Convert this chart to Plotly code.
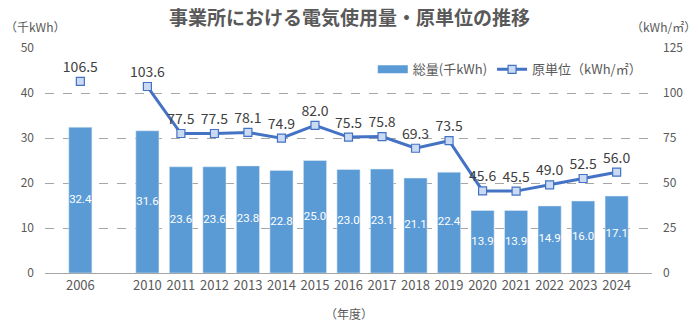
import plotly.graph_objects as go

years = ["2006", " ", "2010", "2011", "2012", "2013", "2014", "2015", "2016",
         "2017", "2018", "2019", "2020", "2021", "2022", "2023", "2024"]
total = [32.4, None, 31.6, 23.6, 23.6, 23.8, 22.8, 25.0, 23.0,
         23.1, 21.1, 22.4, 13.9, 13.9, 14.9, 16.0, 17.1]
unit = [106.5, None, 103.6, 77.5, 77.5, 78.1, 74.9, 82.0, 75.5,
        75.8, 69.3, 73.5, 45.6, 45.5, 49.0, 52.5, 56.0]

FONT = "Noto Sans CJK JP"
GRAY = "#595959"
BAR = "#5b9bd5"

fig = go.Figure()
fig.add_trace(go.Bar(
    x=years, y=total, name="総量(千kWh)", showlegend=False,
    marker=dict(color=BAR),
))
# legend proxy: wide rectangle like the reference legend swatch
fig.add_trace(go.Scatter(
    x=[None], y=[None], name="総量(千kWh)", mode="lines",
    line=dict(color=BAR, width=8),
))
# labels centred inside the bars
fig.add_trace(go.Scatter(
    x=years, y=[v / 2 if v is not None else None for v in total],
    mode="text", showlegend=False, hoverinfo="skip",
    text=[f"{v:.1f}" if v is not None else "" for v in total],
    textposition="middle center",
    textfont=dict(color="white", size=11.5, family="Roboto"),
))
fig.add_trace(go.Scatter(
    x=years, y=unit, name="原単位（kWh/㎡）", yaxis="y2",
    mode="lines+markers+text",
    line=dict(color="#4472c4", width=3),
    marker=dict(symbol="square", size=8, color="#c9daf2",
                line=dict(color="#4472c4", width=1.2)),
    text=[f"{v:.1f}" if v is not None else "" for v in unit],
    textposition="top center",
    textfont=dict(color="#404040", size=14, family=FONT),
    connectgaps=False, cliponaxis=False,
))

fig.update_layout(
    width=699, height=333,
    margin=dict(l=45, r=47, t=48, b=60),
    plot_bgcolor="white", paper_bgcolor="white",
    font=dict(family=FONT, color=GRAY, size=13),
    bargap=0.31,
    showlegend=True,
    legend=dict(orientation="h", x=0.54, y=0.905, xanchor="left", yanchor="middle",
                font=dict(size=13, color=GRAY), bgcolor="rgba(0,0,0,0)",
                itemwidth=30, tracegroupgap=0),
    title=dict(text="<b>事業所における電気使用量・原単位の推移</b>",
               x=0.5, xanchor="center", y=0.945, yanchor="middle",
               font=dict(size=19, color=GRAY, family=FONT)),
    xaxis=dict(type="category", showgrid=False, showline=True,
               linecolor="#a6a6a6", linewidth=1, ticks="",
               tickfont=dict(size=13, color=GRAY)),
    yaxis=dict(range=[0, 50], dtick=10, showgrid=True, gridcolor="#a6a6a6",
               griddash="dash", gridwidth=1, zeroline=False,
               ticks="", ticklabelstandoff=10, tickfont=dict(size=12, color=GRAY)),
    yaxis2=dict(range=[0, 125], dtick=25, overlaying="y", side="right",
                showgrid=False, zeroline=False, ticks="",
                ticklabelstandoff=10, tickfont=dict(size=12, color=GRAY)),
    annotations=[
        dict(text="（千kWh）", xref="paper", yref="paper", x=-0.07, y=1.095,
             xanchor="left", yanchor="middle", showarrow=False,
             font=dict(size=12, color=GRAY)),
        dict(text="（kWh/㎡）", xref="paper", yref="paper", x=1.075, y=1.095,
             xanchor="right", yanchor="middle", showarrow=False,
             font=dict(size=12, color=GRAY)),
        dict(text="（年度）", xref="paper", yref="paper", x=0.5, y=-0.18,
             xanchor="center", yanchor="middle", showarrow=False,
             font=dict(size=12, color=GRAY)),
    ],
)

fig.write_html("out.html")
